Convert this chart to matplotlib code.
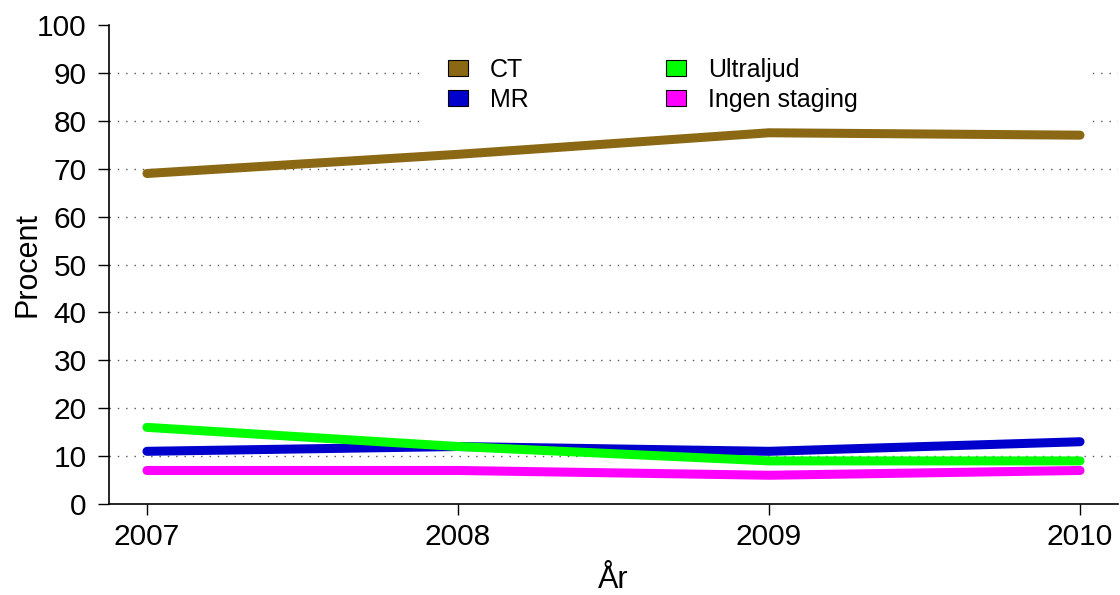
import matplotlib.pyplot as plt
from matplotlib.patches import Patch, Rectangle

# data
years = [2007, 2008, 2009, 2010]
ct = [69, 73, 77.5, 77]
mr = [11, 12, 11, 13]
ultraljud = [16, 12, 9, 9]
ingen = [7, 7, 6, 7]

names = ['CT', 'MR', 'Ultraljud', 'Ingen staging']
colors = ['#8B6914', '#0000CD', '#00FF00', '#FF00FF']
series = [ct, mr, ultraljud, ingen]

plt.rcParams['font.family'] = ['Liberation Sans', 'DejaVu Sans']

fig = plt.figure(figsize=(11.2, 5.95), dpi=100)
ax = fig.add_axes([109/1120, 1-504/595, 1009/1120, 479/595])

ax.set_xlim(2006.878, 2010.122)
ax.set_ylim(0, 100)

# dotted grid lines
for g in range(10, 100, 10):
  ax.axhline(g, color='#555555', lw=1, ls=(0, (1, 5)), zorder=1)

# white box behind the legend (hides grid there)
ax.add_patch(Rectangle((2007.894, 79.1), 2.145, 16.7, facecolor='white',
                       edgecolor='none', zorder=2))

for s, c in zip(series, colors):
  ax.plot(years, s, color=c, lw=6.5, solid_capstyle='round',
          solid_joinstyle='round', zorder=3)

# axes in base-R style
for side in ['top', 'right']:
  ax.spines[side].set_visible(False)
ax.spines['left'].set_bounds(0, 100)
ax.spines['left'].set_linewidth(1.2)
ax.spines['bottom'].set_linewidth(1.2)
ax.set_xticks(years)
ax.set_yticks(range(0, 101, 10))
ax.tick_params(axis='both', direction='out', length=8, width=1, labelsize=21.5)
ax.tick_params(axis='y', pad=8)
ax.tick_params(axis='x', pad=6)

ax.set_ylabel('Procent', fontsize=22)
ax.yaxis.set_label_coords(-0.066, 0.5)
ax.set_xlabel('År', fontsize=22)
ax.xaxis.set_label_coords(0.5, -0.127)

handles = [Patch(facecolor=c, edgecolor='black', lw=0.8) for c in colors]
fig.legend(handles, names, loc='upper left', bbox_to_anchor=(448/1120, 1-58/595),
           ncol=2, frameon=False, fontsize=18, borderpad=0, borderaxespad=0,
           handlelength=0.8, handleheight=0.6, handletextpad=0.88,
           labelspacing=0.24, columnspacing=5.5)

fig.savefig('out.png', dpi=100)
